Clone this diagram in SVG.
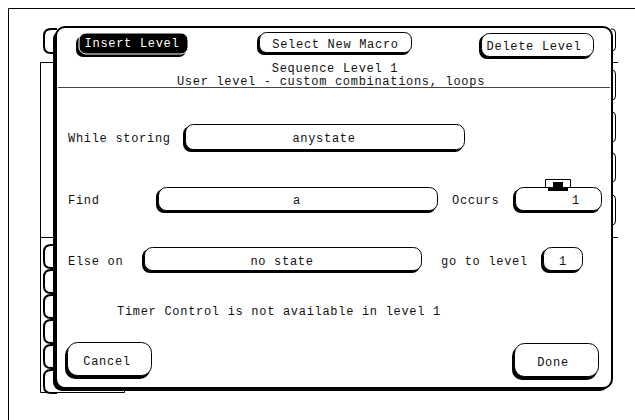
<svg xmlns="http://www.w3.org/2000/svg" width="635" height="420" viewBox="0 0 635 420">
<style>
text{font-family:"Liberation Mono","DejaVu Sans Mono",monospace;font-size:12px;letter-spacing:0.7px;fill:#111}
.w{fill:#fff}
.m{text-anchor:middle}
.ln{fill:none;stroke:#000;stroke-width:1}
.bg{fill:none;stroke:#000;stroke-width:2}
.sh{fill:#000}
.bx{fill:#fff;stroke:#000;stroke-width:1}
.inv{fill:#000;stroke:#fff;stroke-width:1}
</style>
<rect width="635" height="420" fill="#fff"/>
<g id="background">
<path class="ln" d="M8.5,420 V8.5 H635"/>
<path class="ln" d="M40.5,62 V392.5 H124.5 V389"/>
<path class="ln" d="M40,62.5 H56 M40,237.5 H56 M611,62.5 H618 M611,237.5 H618"/>
<path class="bg" d="M57,29 H51 Q44,29 44,36 V46 Q44,53 51,53 H57"/>
<path class="bg" d="M57,245 H51 Q44,245 44,252 V261 Q44,268 51,268 H57"/>
<path class="bg" d="M57,270 H51 Q44,270 44,277 V286 Q44,293 51,293 H57"/>
<path class="bg" d="M57,295 H51 Q44,295 44,302 V311 Q44,318 51,318 H57"/>
<path class="bg" d="M57,320 H51 Q44,320 44,327 V336 Q44,343 51,343 H57"/>
<path class="bg" d="M57,345 H51 Q44,345 44,352 V361 Q44,368 51,368 H57"/>
<path class="bg" d="M57,370 H51 Q44,370 44,377 V386 Q44,393 51,393 H57"/>
<path class="ln" d="M611,29 H612 Q615.5,29 615.5,33 V47 Q615.5,51 612,51 H611"/>
<path class="ln" d="M611,70 H612 Q615.5,70 615.5,74 V96 Q615.5,100 612,100 H611"/>
<path class="ln" d="M611,112 H612 Q615.5,112 615.5,116 V138 Q615.5,142 612,142 H611"/>
<path class="ln" d="M611,153 H612 Q615.5,153 615.5,157 V178 Q615.5,182 612,182 H611"/>
<path class="ln" d="M611,195 H612 Q615.5,195 615.5,199 V221 Q615.5,225 612,225 H611"/>
</g>
<g id="dialog">
<rect class="sh" x="53" y="30" width="556" height="361" rx="9"/>
<rect x="56" y="27" width="556" height="361" rx="9" fill="#fff" stroke="#000" stroke-width="2"/>
<line x1="58" y1="87.5" x2="610" y2="87.5" stroke="#444" stroke-width="1"/>
<text class="m" x="335" y="72">Sequence Level 1</text>
<text class="m" x="331" y="84.5">User level - custom combinations, loops</text>
</g>
<g id="insert-level">
<rect class="sh" x="76" y="36" width="110" height="21" rx="7"/>
<rect class="inv" x="79" y="33" width="109" height="21" rx="7"/>
<text class="w m" x="132" y="47">Insert Level</text>
</g>
<g id="select-new-macro">
<rect class="sh" x="257" y="34" width="153" height="21" rx="7"/>
<rect class="bx" x="259.5" y="32.5" width="152" height="20" rx="7"/>
<text class="m" x="335.5" y="48">Select New Macro</text>
</g>
<g id="delete-level">
<rect class="sh" x="479" y="35" width="113" height="24" rx="8"/>
<rect class="bx" x="481.5" y="33.5" width="112" height="23" rx="8"/>
<text class="m" x="534" y="50">Delete Level</text>
</g>
<g id="while-storing">
<text x="68" y="142">While storing</text>
<rect class="sh" x="183" y="126" width="280" height="26" rx="8"/>
<rect class="bx" x="185.5" y="124.5" width="279" height="25" rx="8"/>
<text class="m" x="324" y="142">anystate</text>
</g>
<g id="find">
<text x="68" y="204">Find</text>
<rect class="sh" x="156" y="189" width="280" height="24" rx="8"/>
<rect class="bx" x="158.5" y="187.5" width="279" height="23" rx="8"/>
<text class="m" x="297" y="204">a</text>
</g>
<g id="occurs">
<text x="452" y="204">Occurs</text>
<rect class="sh" x="513" y="189" width="87" height="24" rx="8"/>
<rect class="bx" x="515.5" y="187.5" width="86" height="23" rx="8"/>
<path class="ln" d="M545.5,188 V179.5 H570.5 V188"/>
<rect class="sh" x="553" y="182" width="10" height="5"/>
<rect class="sh" x="548" y="187" width="20" height="4"/>
<text class="m" x="576" y="204">1</text>
</g>
<g id="else-on">
<text x="68" y="265">Else on</text>
<rect class="sh" x="142" y="249" width="278" height="24" rx="8"/>
<rect class="bx" x="144.5" y="247.5" width="277" height="23" rx="8"/>
<text class="m" x="282" y="265">no state</text>
</g>
<g id="go-to-level">
<text x="441" y="265">go to level</text>
<rect class="sh" x="541" y="249" width="40" height="24" rx="8"/>
<rect class="bx" x="543.5" y="247.5" width="39" height="23" rx="8"/>
<text class="m" x="563" y="265">1</text>
</g>
<g id="timer-note">
<text class="m" x="279" y="315">Timer Control is not available in level 1</text>
</g>
<g id="cancel">
<rect class="sh" x="65" y="345" width="85" height="34" rx="10"/>
<rect class="bx" x="67.5" y="342.5" width="84" height="33" rx="10"/>
<text class="m" x="107" y="365">Cancel</text>
</g>
<g id="done">
<rect class="sh" x="512" y="346" width="85" height="34" rx="10"/>
<rect class="bx" x="514.5" y="343.5" width="84" height="33" rx="10"/>
<text class="m" x="553" y="366">Done</text>
</g>
<g id="connectors"></g>
</svg>
